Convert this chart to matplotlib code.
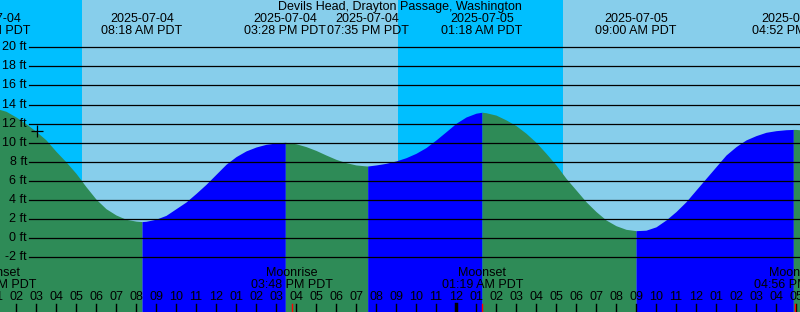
import numpy as np
import pandas as pd
import matplotlib
matplotlib.use("Agg")
import matplotlib.pyplot as plt

plt.rcParams['font.family'] = ['Liberation Sans', 'DejaVu Sans']

title = "Devils Head, Drayton Passage, Washington"
start = pd.Timestamp("2025-07-04 00:00")

# tide extremes (high / low) shown across the top
extreme_times = ["2025-07-04 00:41", "2025-07-04 08:18", "2025-07-04 15:28",
                 "2025-07-04 19:35", "2025-07-05 01:18", "2025-07-05 09:00",
                 "2025-07-05 16:52"]
extreme_ft = [13.7, 1.75, 10.05, 7.57, 13.2, 0.8, 11.4]

# half-hourly tide heights (hours after 2025-07-04 00:00)
sample_h = np.arange(1.0, 42.0, 0.5)
sample_ft = [13.6, 13.3, 12.7, 12.0, 11.2, 10.3, 9.1, 8.0, 6.8, 5.4,
             4.1, 3.1, 2.44, 1.99, 1.8, 1.78, 2.0, 2.4, 3.1, 3.8,
             4.7, 5.65, 6.7, 7.75, 8.55, 9.15, 9.56, 9.84, 9.98, 10.04,
             9.9, 9.6, 9.2, 8.72, 8.27, 7.92, 7.68, 7.58, 7.68, 7.85,
             8.1, 8.44, 8.9, 9.5, 10.3, 11.16, 12.04, 12.7, 13.1, 13.15,
             12.9, 12.4, 11.8, 11.0, 10.05, 8.9, 7.68, 6.28, 5.06, 3.83,
             2.8, 1.92, 1.32, 0.94, 0.8, 0.85, 1.2, 1.92, 2.8, 3.83,
             5.06, 6.28, 7.5, 8.72, 9.6, 10.3, 10.75, 11.1, 11.27, 11.37,
             11.4, 11.3]

# sun: night spans (sunset -> sunrise)
night_start = ["2025-07-03 21:06", "2025-07-04 21:06"]
night_end = ["2025-07-04 05:18", "2025-07-05 05:21"]

# moon events along the bottom
moon_names = ["Moonset", "Moonrise", "Moonset", "Moonrise"]
moon_times = ["2025-07-04 01:00", "2025-07-04 15:48", "2025-07-05 01:19",
              "2025-07-05 16:56"]

now_mark = ("2025-07-04 03:03", 11.2)

ft_levels = list(range(-2, 21, 2))


def hrs(s):
    return (pd.Timestamp(s) - start) / pd.Timedelta(hours=1)


W, H = 800, 312
fig = plt.figure(figsize=(8, 3.12), dpi=100)
ax = fig.add_axes([0, 0, 1, 1])
x0, x1 = 1.2, 41.2
ppf = 9.55  # pixels per foot
y0 = -(H - 238.3) / ppf
y1 = 238.3 / ppf
ax.set_xlim(x0, x1)
ax.set_ylim(y0, y1)
ax.axis('off')

day_col, night_col = '#87CEEB', '#00BFFF'
ax.axvspan(x0, x1, color=day_col, zorder=0)
for a, b in zip(night_start, night_end):
    ax.axvspan(hrs(a), hrs(b), color=night_col, lw=0, zorder=0)

# tide curve: merge samples with the extremes
ext_h = [hrs(s) for s in extreme_times]
th = np.concatenate([sample_h, ext_h])
tf = np.concatenate([sample_ft, extreme_ft])
order = np.argsort(th, kind='stable')
th, tf = th[order], tf[order]

bounds = ext_h + [th[-1]]
for a, b in zip(bounds[:-1], bounds[1:]):
    m = (th >= a - 1e-9) & (th <= b + 1e-9)
    seg_t, seg_f = th[m], tf[m]
    col = '#0000FF' if seg_f[-1] > seg_f[0] else '#2E8B57'
    ax.fill_between(seg_t, seg_f, y0, color=col, lw=0, zorder=1)

# grid lines and labels
for lv in ft_levels:
    ax.plot([x0 + (x1 - x0) * 29 / W, x1], [lv, lv], color='black', lw=0.9, zorder=3)
    ax.text(27 / W, lv, f"{lv} ft", transform=ax.get_yaxis_transform(),
            ha='right', va='center', fontsize=9, zorder=4)

ax.plot(hrs(now_mark[0]), now_mark[1], marker='+', color='black', ms=9, mew=0.9, zorder=4)

tr = ax.get_xaxis_transform()
fs = 9

ax.text(0.5, 1 - 7 / H, title, transform=ax.transAxes, ha='center', va='center', fontsize=fs)
for s in extreme_times:
    ts = pd.Timestamp(s)
    x = hrs(s)
    ax.text(x, 1 - 19 / H, ts.strftime("%Y-%m-%d"), transform=tr, ha='center', va='center', fontsize=fs)
    ax.text(x, 1 - 31 / H, ts.strftime("%I:%M %p PDT"), transform=tr, ha='center', va='center', fontsize=fs)

for name, s in zip(moon_names, moon_times):
    ts = pd.Timestamp(s)
    x = hrs(s)
    ax.text(x, 1 - 273 / H, name, transform=tr, ha='center', va='center', fontsize=fs)
    ax.text(x, 1 - 285 / H, ts.strftime("%I:%M %p PDT"), transform=tr, ha='center', va='center', fontsize=fs)
    ax.plot([x, x], [0, 8 / H], transform=tr, color='red', lw=1, zorder=5)

# hour ticks
for h in range(1, 43):
    lab = f"{(h - 1) % 12 + 1:02d}"
    ax.text(h, 1 - 297 / H, lab, transform=tr, ha='center', va='center', fontsize=fs, zorder=5)
    lw = 2.5 if h % 24 == 0 else 1
    ax.plot([h, h], [0, 8 / H], transform=tr, color='black', lw=lw, zorder=4)

fig.savefig("out.png", dpi=100)
